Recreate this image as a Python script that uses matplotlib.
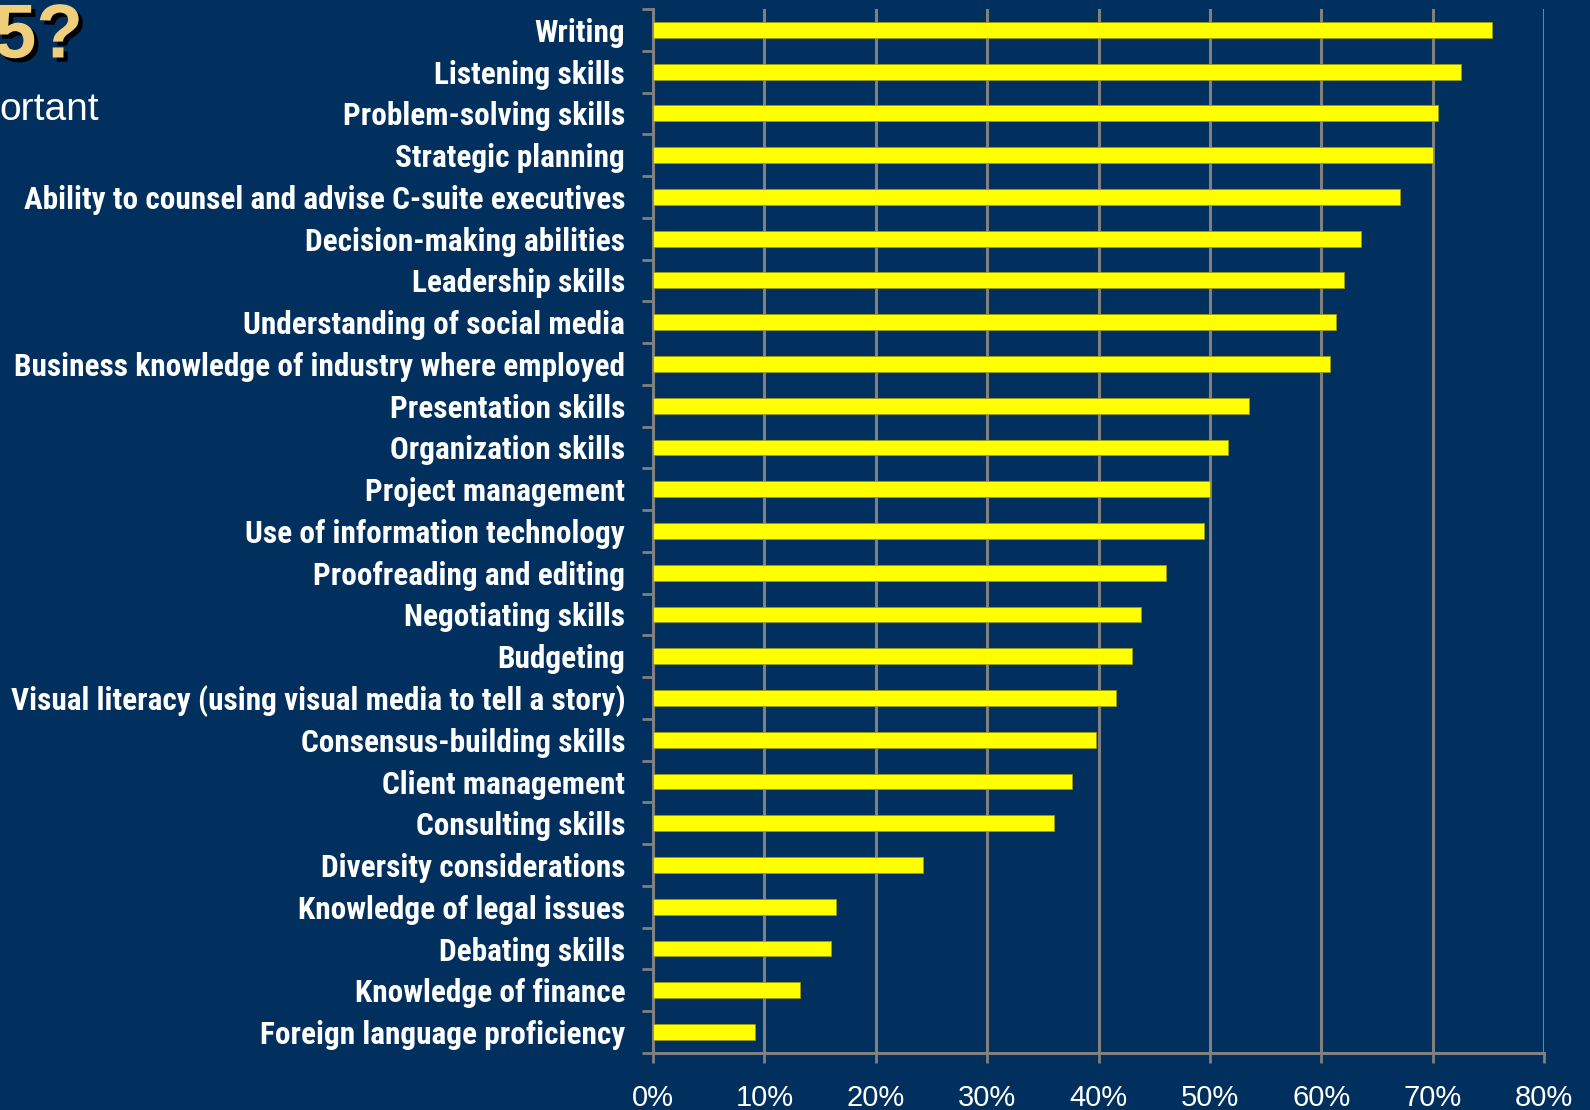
import matplotlib
matplotlib.use("Agg")
import matplotlib.pyplot as plt
import matplotlib.patheffects as pe
from matplotlib import font_manager

# --- Data ---
skills = [
    "Writing",
    "Listening skills",
    "Problem-solving skills",
    "Strategic planning",
    "Ability to counsel and advise C-suite executives",
    "Decision-making abilities",
    "Leadership skills",
    "Understanding of social media",
    "Business knowledge of industry where employed",
    "Presentation skills",
    "Organization skills",
    "Project management",
    "Use of information technology",
    "Proofreading and editing",
    "Negotiating skills",
    "Budgeting",
    "Visual literacy (using visual media to tell a story)",
    "Consensus-building skills",
    "Client management",
    "Consulting skills",
    "Diversity considerations",
    "Knowledge of legal issues",
    "Debating skills",
    "Knowledge of finance",
    "Foreign language proficiency",
]
pct = [75.3, 72.5, 70.5, 70.0, 67.1, 63.6, 62.0, 61.3, 60.8, 53.5,
       51.6, 50.0, 49.5, 46.1, 43.8, 43.0, 41.6, 39.8, 37.6, 36.0,
       24.2, 16.4, 16.0, 13.2, 9.2]
xticks = [0, 10, 20, 30, 40, 50, 60, 70, 80]

BG = "#012f5e"
GRID = "#808080"

# narrow bold face for the category labels (Arial Narrow look-alike)
names = {f.name for f in font_manager.fontManager.ttflist}
label_font = next((n for n in ["Liberation Sans Narrow", "Arimo Narrow",
                               "Roboto Condensed", "Archivo Narrow"]
                   if n in names), "DejaVu Sans")

fig = plt.figure(figsize=(15.9, 11.1), dpi=100, facecolor=BG)
ax = fig.add_axes([0.4107, 0.0514, 0.5604, 0.9405], facecolor=BG)

y = list(range(len(skills)))
ax.barh(y, pct, height=0.38, color="#ffff00", edgecolor="#9a9a10",
        linewidth=0.6, zorder=3)
ax.set_ylim(len(skills) - 0.5, -0.5)
ax.set_xlim(0, 80)

ax.set_xticks(xticks)
ax.set_xticklabels([f"{t}%" for t in xticks], fontsize=21,
                   family="Liberation Sans", color="white")
ax.tick_params(axis="x", length=7, width=2, color=GRID, pad=15)

ax.set_yticks(y)
ylabels = ax.set_yticklabels(skills, fontsize=22, family=label_font,
                             fontweight="bold", color="white",
                             fontstretch="condensed")
ax.set_yticks([i + 0.5 for i in range(-1, len(skills))], minor=True)
ax.tick_params(axis="y", which="major", length=0, pad=20)
ax.tick_params(axis="y", which="minor", length=8, width=2, color=GRID)

# fit the longest label to the width it takes in the reference (~615 px)
fig.canvas.draw()
r = fig.canvas.get_renderer()
widest = max(t.get_window_extent(r).width for t in ylabels)
size = 22 * 612 / widest
for t in ylabels:
    t.set_fontsize(size)

ax.grid(axis="x", color=GRID, linewidth=2.2, zorder=1)
for side in ("top", "right"):
    ax.spines[side].set_visible(False)
for side in ("left", "bottom"):
    ax.spines[side].set_color(GRID)
    ax.spines[side].set_linewidth(2.2)

# Cut-off slide title fragments in the top-left corner
fig.text(83 / 1590, 1 - 38 / 1110, "5?", ha="right", va="center",
         fontsize=55, fontweight="bold", family="Liberation Sans",
         color="#f0cf7c",
         path_effects=[pe.withSimplePatchShadow(offset=(3, -3),
                                                shadow_rgbFace="black",
                                                alpha=1.0)])
fig.text(99 / 1590, 1 - 110 / 1110, "ortant", ha="right", va="center",
         fontsize=28, family="Liberation Sans", color="white")

fig.savefig("out.png", dpi=100, facecolor=BG)
